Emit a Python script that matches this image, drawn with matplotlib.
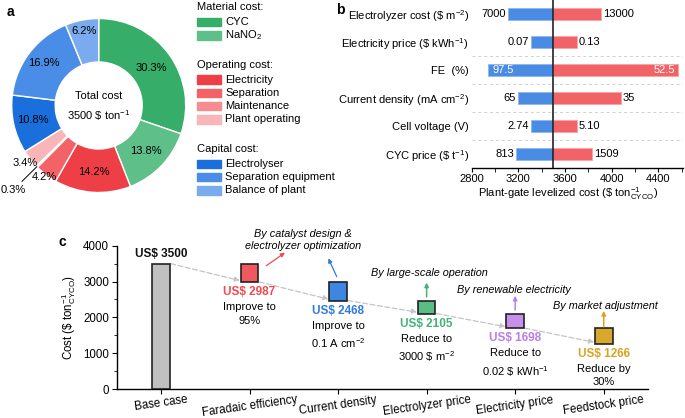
import numpy as np
import matplotlib.pyplot as plt
import matplotlib.transforms as mtransforms
from matplotlib.patches import Rectangle
from matplotlib.ticker import MultipleLocator

plt.rcParams['font.family'] = ['Liberation Sans', 'DejaVu Sans']
plt.rcParams['font.size'] = 8
plt.rcParams['mathtext.fontset'] = 'custom'
plt.rcParams['mathtext.rm'] = 'Liberation Sans'
plt.rcParams['mathtext.it'] = 'Liberation Sans:italic'
plt.rcParams['mathtext.bf'] = 'Liberation Sans:bold'

# ---- data: panel a (cost breakdown)
cost_items = ['CYC', 'NaNO$_2$', 'Electricity', 'Separation', 'Maintenance',
              'Plant operating', 'Electrolyser', 'Separation equipment', 'Balance of plant']
cost_share = [30.3, 13.8, 14.2, 4.2, 0.3, 3.4, 10.8, 16.9, 6.2]
cost_colors = ['#37ad6a', '#5fbf89', '#ef3f46', '#f26267', '#f58d90', '#f9b5b7',
               '#1a6fdc', '#4a8de6', '#7aabee']
cost_groups = [('Material cost:', 2), ('Operating cost:', 4), ('Capital cost:', 3)]
total_cost = 3500

# ---- data: panel b (sensitivity)
sens_params = [r'Electrolyzer cost (\$ m$^{-2}$)', r'Electricity price (\$ kWh$^{-1}$)', 'FE  (%)',
               r'Current density (mA cm$^{-2}$)', 'Cell voltage (V)', r'CYC price (\$ t$^{-1}$)']
sens_low = [3110, 3310, 2940, 3195, 3310, 3180]
sens_high = [3905, 3700, 4565, 4075, 3700, 3830]
sens_low_lab = ['7000', '0.07', '97.5', '65', '2.74', '813']
sens_high_lab = ['13000', '0.13', '52.5', '35', '5.10', '1509']
base_cost = 3500

# ---- data: panel c (cost reduction path)
steps = ['Base case', 'Faradaic efficiency', 'Current density', 'Electrolyzer price',
         'Electricity price', 'Feedstock price']
step_cost = [3500, 2987, 2468, 2105, 1698, 1266]
step_notes = ['', 'Improve to\n95%', 'Improve to\n0.1 A cm$^{-2}$',
              'Reduce to\n' + r'3000 \$ m$^{-2}$', 'Reduce to\n' + r'0.02 \$ kWh$^{-1}$',
              'Reduce by\n30%']
step_colors = ['#c0c0c0', '#f0595d', '#3d86e1', '#5bbd86', '#c78fea', '#d6a92c']
step_text_colors = ['#111111', '#f04a50', '#2f7be0', '#45b275', '#bb7de6', '#d9a421']
drivers = ['By catalyst design &\nelectrolyzer optimization', 'By large-scale operation',
           'By renewable electricity', 'By market adjustment']

W, H = 685, 418
fig = plt.figure(figsize=(W / 100, H / 100), dpi=100)

def px_axes(x0, y0, x1, y1):
    return fig.add_axes([x0 / W, 1 - y1 / H, (x1 - x0) / W, (y1 - y0) / H])

# ================= panel a
cx, cy, r = 98.7, 105.5, 87
ax_a = px_axes(cx - r, cy - r, cx + r, cy + r)
wedges, _ = ax_a.pie(cost_share, colors=cost_colors, startangle=90, counterclock=False,
                     wedgeprops=dict(width=0.5, edgecolor='white', linewidth=1.0))
ax_a.set_xlim(-1, 1)
ax_a.set_ylim(-1, 1)
ax_a.set_aspect('equal')
lab_r = [0.74, 0.75, 0.77, 1.03, 1.38, 1.08, 0.77, 0.80, 0.87]
for i, w in enumerate(wedges):
    ang = np.deg2rad((w.theta1 + w.theta2) / 2)
    x, y = lab_r[i] * np.cos(ang), lab_r[i] * np.sin(ang)
    ax_a.text(x, y, f'{cost_share[i]}%', ha='center', va='center', fontsize=8, clip_on=False)
    if cost_share[i] < 1:
        ax_a.plot([np.cos(ang), 1.24 * np.cos(ang)], [np.sin(ang), 1.24 * np.sin(ang)],
                  color='k', lw=0.7, clip_on=False)
ax_a.text(0, -0.02, 'Total cost\n' + rf'{total_cost} \$ ton$^{{-1}}$', ha='center', va='center',
          fontsize=8, linespacing=1.6)

# overlay for legend and panel letters
ov = fig.add_axes([0, 0, 1, 1])
ov.set_xlim(0, W)
ov.set_ylim(H, 0)
ov.axis('off')
y = 7.5
k = 0
for title, n in cost_groups:
    ov.text(197, y, title, ha='left', va='center', fontsize=8)
    y += 14.5
    for j in range(n):
        ov.add_patch(Rectangle((197.5, y - 4.2), 23.5, 8.4, color=cost_colors[k]))
        ov.text(225, y, cost_items[k], ha='left', va='center', fontsize=8)
        y += 13.3
        k += 1
    y += 16.5
for lab, (x, yy) in zip('abc', [(10, 12), (340, 10), (62, 242)]):
    ov.text(x, yy, lab, fontsize=10, fontweight='bold', ha='center', va='center')

# ================= panel b
ax_b = px_axes(471.7, 0, 683, 168)
yy = np.arange(len(sens_params))
blue, red = '#4a8be3', '#f26367'
ax_b.barh(yy, np.array(sens_low) - base_cost, left=base_cost, height=0.4,
          color=blue, edgecolor='#8fb6ee', linewidth=0.6)
ax_b.barh(yy, np.array(sens_high) - base_cost, left=base_cost, height=0.4,
          color=red, edgecolor='#f7a3a5', linewidth=0.6)
for i in range(len(sens_params)):
    if i == 2:
        ax_b.annotate(sens_low_lab[i], (sens_low[i], i), xytext=(3, 0), textcoords='offset points',
                      ha='left', va='center', color='white', fontsize=8)
        ax_b.annotate(sens_high_lab[i], (sens_high[i], i), xytext=(-2, 0), textcoords='offset points',
                      ha='right', va='center', color='white', fontsize=8)
    else:
        ax_b.annotate(sens_low_lab[i], (sens_low[i], i), xytext=(-1.5, 0), textcoords='offset points',
                      ha='right', va='center', fontsize=8)
        ax_b.annotate(sens_high_lab[i], (sens_high[i], i), xytext=(1.5, 0), textcoords='offset points',
                      ha='left', va='center', fontsize=8)
for s in [1.5, 2.5, 3.5, 4.5]:
    ax_b.axhline(s, color='#d0d0d0', lw=0.7, ls=(0, (3, 3)), zorder=0)
ax_b.axvline(base_cost, color='#222222', lw=1.2)
ax_b.set_xlim(2800, 4610)
ax_b.set_ylim(5.5, -0.5)
ax_b.set_yticks(yy)
ax_b.set_yticklabels(sens_params, fontsize=8)
ax_b.tick_params(axis='y', length=0, pad=2)
ax_b.set_xticks([2800, 3200, 3600, 4000, 4400])
ax_b.xaxis.set_minor_locator(MultipleLocator(200))
ax_b.tick_params(axis='x', which='both', length=3, direction='out', labelsize=8, pad=1.5)
for sp in ['top', 'right', 'left']:
    ax_b.spines[sp].set_visible(False)
ax_b.spines['bottom'].set_linewidth(1.0)
ax_b.set_xlabel(r'Plant-gate levelized cost (\$ ton$^{-1}_{\mathrm{CYCO}}$)', fontsize=8)
ax_b.xaxis.set_label_coords(0.456, -0.105)

# ================= panel c
ax_c = px_axes(116.7, 245.7, 648, 389)
xs = np.arange(len(steps))
ax_c.bar(0, step_cost[0], width=0.21, color=step_colors[0], edgecolor='#222222', lw=1.2, zorder=3)
for i in range(1, len(steps)):
    ax_c.bar(i, step_cost[i - 1] - step_cost[i], bottom=step_cost[i], width=0.2,
             color=step_colors[i], edgecolor='#222222', lw=1.2, zorder=3)
    ax_c.annotate('', xy=(i - 0.11, step_cost[i] + 40), xytext=(i - 1 + 0.11, step_cost[i - 1]),
                  arrowprops=dict(arrowstyle='-|>', color='#c4c4c4', lw=0.9, ls=(0, (4, 2)),
                                  mutation_scale=7, shrinkA=0, shrinkB=0), zorder=2)
ax_c.text(0, step_cost[0] + 270, f'US$ {step_cost[0]}', ha='center', va='center',
          fontsize=8.5, fontweight='bold', color=step_text_colors[0])
for i in range(1, len(steps)):
    ax_c.text(i, step_cost[i] - 285, f'US$ {step_cost[i]}', ha='center', va='center',
              fontsize=8.5, fontweight='bold', color=step_text_colors[i])
    ax_c.text(i, step_cost[i] - 565, step_notes[i], ha='center', va='top', fontsize=8,
              linespacing=1.45)

# driver annotations
ax_c.text(1.6, 4160, drivers[0], ha='center', va='center', style='italic', fontsize=7.8,
          linespacing=1.3, clip_on=False)
ax_c.annotate('', xy=(1.40, 3805), xytext=(1.19, 3442),
              arrowprops=dict(arrowstyle='-|>', color=step_text_colors[1], lw=0.9,
                              mutation_scale=6, shrinkA=0, shrinkB=0))
ax_c.annotate('', xy=(1.89, 3647), xytext=(1.985, 3135),
              arrowprops=dict(arrowstyle='-|>', color=step_text_colors[2], lw=0.9,
                              mutation_scale=6, shrinkA=0, shrinkB=0))
for i, (tx, ty, y0, y1) in zip([3, 4, 5], [(3.03, 3228, 2570, 2970), (3.99, 2763, 2205, 2604),
                                           (5.02, 2316, 1740, 2177)]):
    ax_c.text(tx, ty, drivers[i - 2], ha='center', va='center', style='italic', fontsize=7.8)
    ax_c.annotate('', xy=(i, y1), xytext=(i, y0),
                  arrowprops=dict(arrowstyle='-|>', color=step_text_colors[i], lw=1.1,
                                  mutation_scale=6, shrinkA=0, shrinkB=0))

ax_c.set_xlim(-0.5, 5.5)
ax_c.set_ylim(0, 4000)
ax_c.set_xticks(xs)
ax_c.set_xticklabels(steps, rotation=8, fontsize=8.3)
shift = mtransforms.ScaledTranslation(-0.08, 0.06, fig.dpi_scale_trans)
for t in ax_c.get_xticklabels():
    t.set_transform(t.get_transform() + shift)
ax_c.yaxis.set_major_locator(MultipleLocator(1000))
ax_c.yaxis.set_minor_locator(MultipleLocator(500))
ax_c.tick_params(axis='y', which='major', length=3.5, direction='out', labelsize=8.3, pad=2)
ax_c.tick_params(axis='x', which='major', length=3.5, direction='out', pad=0)
ax_c.tick_params(axis='y', which='minor', length=2, direction='out')
for sp in ['top', 'right']:
    ax_c.spines[sp].set_visible(False)
ax_c.spines['left'].set_linewidth(1.0)
ax_c.spines['bottom'].set_linewidth(1.0)
ax_c.set_ylabel(r'Cost (\$ ton$^{-1}_{\mathrm{CYCO}}$)', fontsize=8.3)
ax_c.yaxis.set_label_coords(-0.072, 0.5)

fig.savefig('out.png', dpi=100)
